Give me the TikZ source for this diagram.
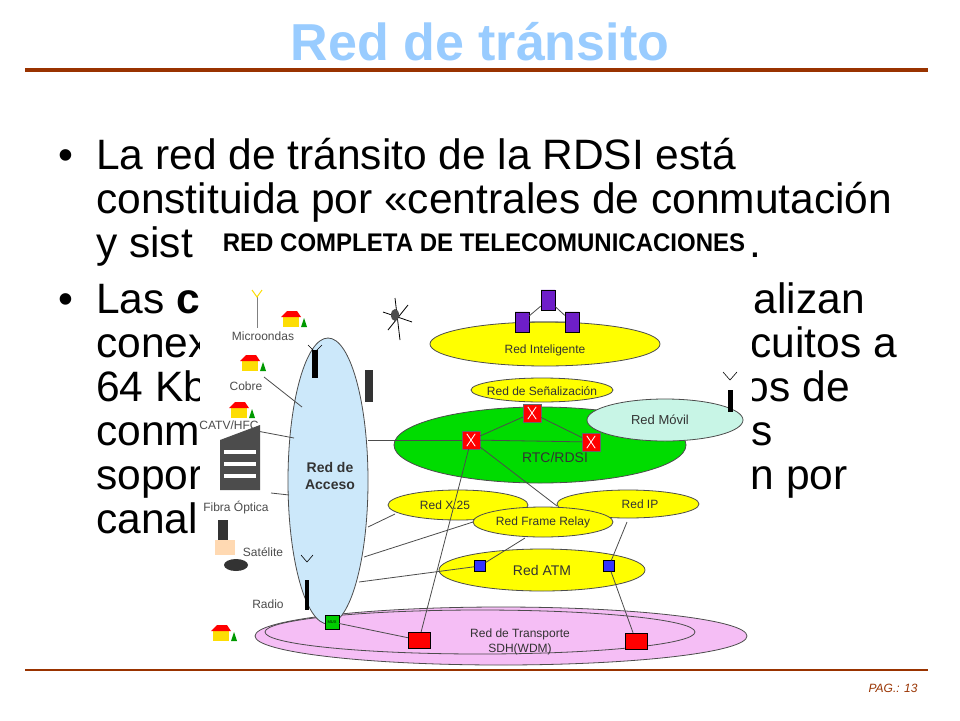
\documentclass[tikz,border=0pt]{standalone}
\usepackage{fontspec}
\setmainfont{Liberation Sans}
\usetikzlibrary{shapes.geometric}
\definecolor{titleblue}{RGB}{153,204,255}
\definecolor{rule}{RGB}{153,51,0}
\definecolor{ylw}{RGB}{255,255,0}
\definecolor{grn}{RGB}{0,220,0}
\definecolor{lblue}{RGB}{204,232,250}
\definecolor{teal}{RGB}{200,245,230}
\definecolor{pink}{RGB}{245,190,245}
\definecolor{purp}{RGB}{110,30,200}
\begin{document}
\begin{tikzpicture}[x=1pt,y=-1pt,
  body/.style={anchor=base west,font=\fontsize{42.5}{42}\selectfont,inner sep=0},
  net/.style={ellipse,draw=black!70,line width=0.8pt,inner sep=0},
  lab/.style={font=\fontsize{12}{13}\selectfont,align=center,text=black!80},
  sw/.style={draw=black!60,fill=red,minimum size=18pt,inner sep=0},
  atm/.style={draw=black,fill=blue!80,minimum size=11pt,inner sep=0},
  link/.style={draw=black!70,line width=0.8pt},
  db/.style={cylinder,shape border rotate=90,aspect=0.3,draw=black,fill=purp,minimum width=14pt,minimum height=20pt,inner sep=0}]
\useasboundingbox (0,0) rectangle (960,720);
\fill[white] (0,0) rectangle (960,720);
% title
\node[font=\fontsize{52}{52}\selectfont\bfseries,text=titleblue] (title) at (480,42) {Red de tránsito};
\draw[rule,line width=3.5pt] (25,70) -- (928,70);
\draw[rule,line width=1.5pt] (25,670) -- (928,670);
\node[font=\fontsize{12}{12}\selectfont\itshape,text=rule,anchor=east] (pag) at (921,688) {PAG.: 13};
% body text
\node[body] (b1) at (58,169) {•};
\node[body] (t1) at (96,169) {La red de tránsito de la RDSI está};
\node[body] (t2) at (96,213) {constituida por «centrales de conmutación};
\node[body] (t3) at (96,257) {y sist};
\node[body] (t3r) at (749,257) {.};
\node[body] (b2) at (58,313) {•};
\node[body] (u1) at (96,313) {Las \textbf{c}};
\node[body,anchor=base east] (u1r) at (865,313) {alizan};
\node[body] (u2) at (96,357) {conex};
\node[body,anchor=base east] (u2r) at (897,357) {rcuitos a};
\node[body] (u3) at (96,401) {64 Kb};
\node[body,anchor=base east] (u3r) at (850,401) {os de};
\node[body] (u4) at (96,445) {conm};
\node[body,anchor=base east] (u4r) at (773,445) {s};
\node[body] (u5) at (96,489) {sopor};
\node[body,anchor=base east] (u5r) at (848,489) {n por};
\node[body] (u6) at (96,533) {canal};
% image area
\fill[white] (200,226) rectangle (752,642);
\node[font=\fontsize{15}{15}\selectfont\bfseries,inner sep=0] (head) at (484,243) {\scalebox{1.6}[1.7]{RED COMPLETA DE TELECOMUNICACIONES}};
% transport
\node[net,fill=pink,minimum width=492pt,minimum height=58pt] (tr) at (501,636) {};
\draw[black!70,line width=0.8pt] (480,632) ellipse (215 and 22);
\node[lab] (trl) at (520,642) {Red de Transporte\\[2pt]SDH(WDM)};
% access
\node[net,fill=lblue,minimum width=80pt,minimum height=286pt] (acc) at (328,481) {};
\node[lab,font=\fontsize{14}{17}\selectfont\bfseries] (accl) at (330,476) {Red de\\Acceso};
% intelligent
\node[net,fill=ylw,minimum width=230pt,minimum height=44pt] (ri) at (545,344) {};
\node[lab] (ril) at (545,350) {Red Inteligente};
% signalling
\node[net,fill=ylw,minimum width=142pt,minimum height=24pt] (rs) at (542,390) {};
\node[lab] (rsl) at (542,391) {Red de Señalización};
% RTC
\node[net,fill=grn,minimum width=292pt,minimum height=76pt] (rtc) at (540,445) {};
\node[lab,font=\fontsize{14}{14}\selectfont] (rtcl) at (555,457) {RTC/RDSI};
% mobile
\node[net,fill=teal,minimum width=156pt,minimum height=42pt] (rm) at (665,420) {};
\node[lab,font=\fontsize{13}{13}\selectfont] (rml) at (660,420) {Red Móvil};
% data nets
\node[net,fill=ylw,minimum width=140pt,minimum height=30pt] (x25) at (458,505) {};
\node[lab] (x25l) at (445,505) {Red X.25};
\node[net,fill=ylw,minimum width=142pt,minimum height=28pt] (ip) at (628,504) {};
\node[lab] (ipl) at (640,504) {Red IP};
\node[net,fill=ylw,minimum width=140pt,minimum height=30pt] (fr) at (543,522) {};
\node[lab] (frl) at (543,522) {Red Frame Relay};
\node[net,fill=ylw,minimum width=206pt,minimum height=42pt] (ratm) at (542,570) {};
\node[lab,font=\fontsize{14}{14}\selectfont] (ratml) at (542,570) {Red ATM};
% switches
\node[sw] (s1) at (532,413) {};
\node[sw] (s2) at (471,440) {};
\node[sw] (s3) at (591,442) {};
\foreach \s in {s1,s2,s3}{\draw[white,line width=0.8pt] ([xshift=5pt,yshift=-3pt]\s.north west) -- ([xshift=-5pt,yshift=3pt]\s.south east);
 \draw[white,line width=0.8pt] ([xshift=-5pt,yshift=-3pt]\s.north east) -- ([xshift=5pt,yshift=3pt]\s.south west);}
\node[atm] (a1) at (480,566) {};
\node[atm] (a2) at (609,566) {};
\node[draw=black,fill=green!80!black,minimum size=14pt,inner sep=0,font=\fontsize{4}{4}\selectfont] (mux) at (332,622) {MUX};
\node[draw=black,fill=red,minimum width=22pt,minimum height=16pt,inner sep=0] (d1) at (419,640) {};
\node[draw=black,fill=red,minimum width=22pt,minimum height=16pt,inner sep=0] (d2) at (636,641) {};
% SCP/SDP
\node[db] (sdp) at (548,300) {};
\node[db] (scp1) at (522,322) {};
\node[db] (scp2) at (572,322) {};
\draw[link] (scp1) -- (sdp) -- (scp2) -- (scp1);
% links
\draw[link] (s1) -- (s2) -- (s3) -- (s1);
\draw[link] (acc.east |- s2) -- (s2);
\draw[link] (s2) -- (557,506);
\draw[link] (s2) -- (d1);
\draw[link] (368,527) -- (395,514);
\draw[link] (364,557) -- (473,522);
\draw[link] (359,582) -- (a1);
\draw[link] (525,538) -- (a1);
\draw[link] (627,522) -- (a2) -- (d2);
\draw[link] (mux) -- (d1);
% left labels
\foreach \n/\t/\x/\y in {mic/Microondas/263/336,cob/Cobre/246/386,cat/{CATV/HFC}/229/425,fib/Fibra Óptica/236/508,sat/Satélite/263/552,rad/Radio/268/604}
  \node[lab,text=black!70] (\n) at (\x,\y) {\t};
\draw[link] (264,377) -- (302,407);
\draw[link] (257,431) -- (294,438);
\draw[link] (271,493) -- (289,495);
% houses
\foreach \hx/\hy in {291/322, 250/366, 239/413, 221/636}{
  \fill[yellow!80!orange] (\hx-8,\hy-5) rectangle (\hx+8,\hy+5);
  \fill[red] (\hx-10,\hy-5) -- (\hx-4,\hy-11) -- (\hx+6,\hy-11) -- (\hx+10,\hy-5) -- cycle;
  \fill[green!60!black] (\hx+10,\hy+5) -- (\hx+13,\hy-4) -- (\hx+16,\hy+5) -- cycle;}
% antennas
\draw[black!50,line width=1pt] (257,297) -- (257,328);
\draw[yellow!80!orange,line width=1pt] (252,290) -- (257,297) -- (262,290);
\fill[black] (312,350) rectangle (318,378);
\draw[black,line width=0.6pt] (308,345) -- (315,352) -- (322,345);
\fill[black] (305,580) rectangle (309,610);
\draw[black,line width=0.6pt] (301,555) -- (307,562) -- (313,555);
\fill[black] (728,390) rectangle (733,412);
\draw[black,line width=0.6pt] (723,372) -- (730,380) -- (737,372);
% satellite & other icons
\draw[black,line width=0.8pt] (395,298) -- (400,340) (383,312) -- (412,322) (388,330) -- (408,305);
\fill[black!70] (395,315) ellipse (4 and 6);
\fill[black!80] (365,370) rectangle (373,402);
\fill[black!70] (220,440) -- (260,425) -- (260,490) -- (220,490) -- cycle;
\foreach \yy in {450,462,474}{\fill[white] (224,\yy) rectangle (256,\yy+4);}
\fill[black!80] (218,520) rectangle (228,545);
\fill[orange!30] (215,540) rectangle (235,555);
\fill[black!80] (236,565) ellipse (12 and 6);
\end{tikzpicture}
\end{document}
